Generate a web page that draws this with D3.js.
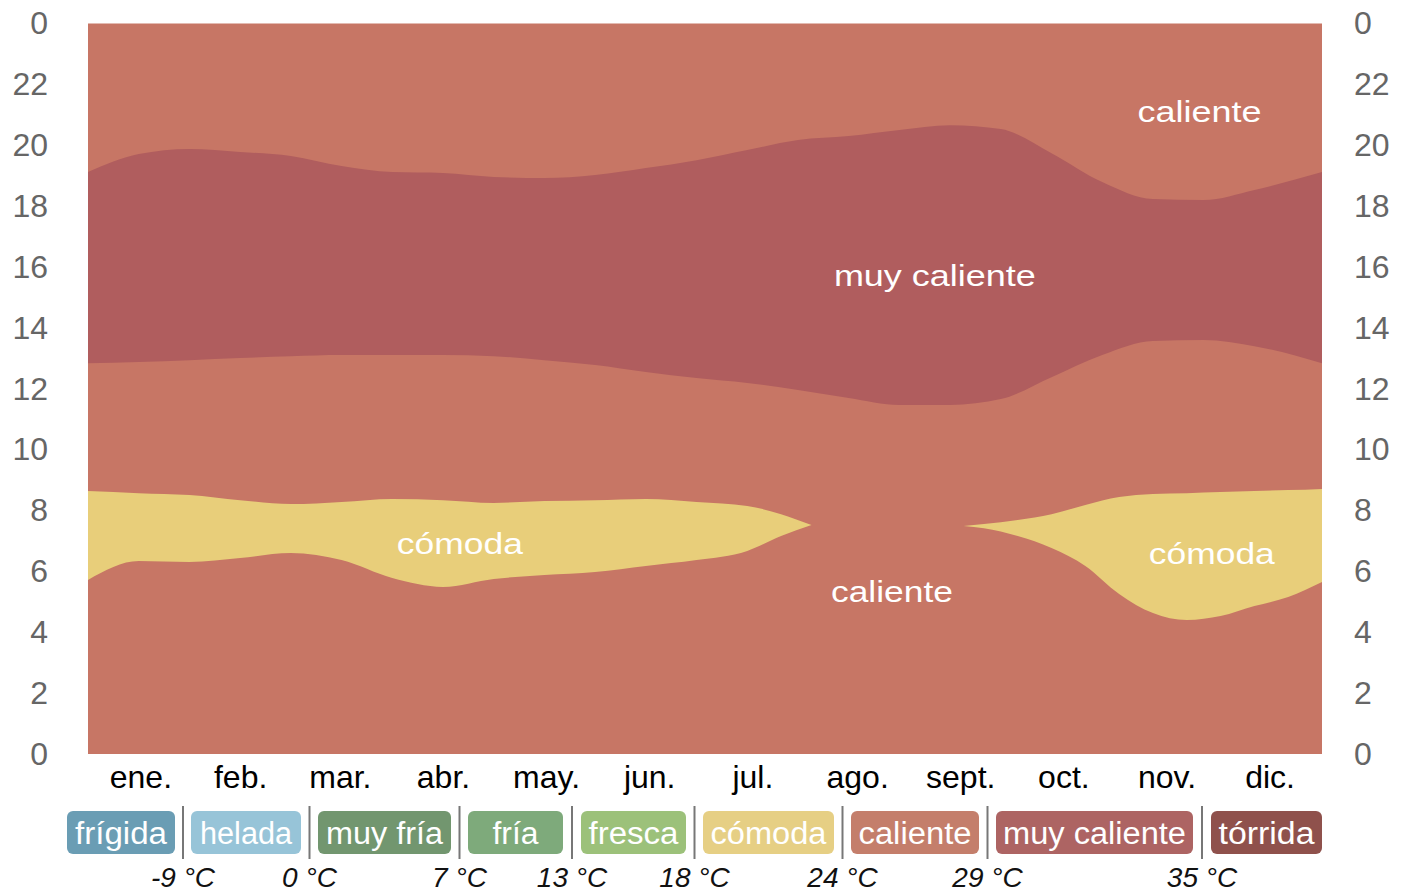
<!DOCTYPE html>
<html>
<head>
<meta charset="utf-8">
<script src="https://cdn.jsdelivr.net/npm/d3@7"></script>
<style>
  html, body { margin: 0; padding: 0; background: #ffffff; }
  svg { display: block; font-family: "Liberation Sans", Arial, sans-serif; }
</style>
</head>
<body>
<svg id="chart" width="1408" height="892"></svg>
<script>
// ---------- DATA ----------
const monthLabels = ["ene.", "feb.", "mar.", "abr.", "may.", "jun.", "jul.", "ago.", "sept.", "oct.", "nov.", "dic."];
const monthLengths = [31, 28, 31, 30, 31, 30, 31, 31, 30, 31, 30, 31];
const hourTicks = [0, 2, 4, 6, 8, 10, 12, 14, 16, 18, 20, 22, 24];

// "muy caliente" band: day of year, lower / upper hour boundary
const hotDays = [0, 15, 30, 45, 60, 75, 90, 105, 120, 135, 150, 165, 180, 195, 210, 225, 240, 255, 270, 285, 300, 315, 330, 345, 365];
const hotLower = [12.84, 12.88, 12.94, 13.01, 13.07, 13.11, 13.11, 13.11, 13.07, 12.94, 12.78, 12.55, 12.35, 12.19, 11.96, 11.70, 11.47, 11.47, 11.66, 12.38, 13.11, 13.57, 13.60, 13.40, 12.84];
const hotUpper = [19.12, 19.71, 19.88, 19.78, 19.65, 19.32, 19.12, 19.09, 18.96, 18.92, 19.02, 19.25, 19.51, 19.84, 20.17, 20.30, 20.50, 20.66, 20.53, 19.74, 18.79, 18.23, 18.20, 18.53, 19.12];

// "cómoda" band, first half of the year
const comfyDaysA = [0, 15, 30, 45, 60, 75, 90, 105, 120, 135, 150, 165, 180, 195, 205, 214];
const comfyLowerA = [5.72, 6.34, 6.31, 6.44, 6.60, 6.37, 5.78, 5.49, 5.75, 5.88, 5.98, 6.18, 6.37, 6.67, 7.16, 7.52];
const comfyUpperA = [8.64, 8.57, 8.51, 8.34, 8.21, 8.28, 8.38, 8.34, 8.25, 8.31, 8.34, 8.38, 8.28, 8.15, 7.88, 7.52];

// "cómoda" band, end of the year
const comfyDaysB = [259, 265, 275, 285, 295, 305, 315, 325, 335, 345, 355, 365];
const comfyLowerB = [7.49, 7.42, 7.16, 6.77, 6.18, 5.26, 4.63, 4.40, 4.53, 4.86, 5.16, 5.65];
const comfyUpperB = [7.49, 7.56, 7.69, 7.88, 8.18, 8.44, 8.54, 8.57, 8.61, 8.64, 8.67, 8.71];

// band labels: text, day, hour
const bandLabelText = ["caliente", "muy caliente", "cómoda", "caliente", "cómoda"];
const bandLabelDay = [328.8, 250.5, 110, 237.8, 332.4];
const bandLabelHour = [21.12, 15.74, 6.93, 5.35, 6.60];

// legend
const legendNames = ["frígida", "helada", "muy fría", "fría", "fresca", "cómoda", "caliente", "muy caliente", "tórrida"];
const legendThresholds = ["-9 °C", "0 °C", "7 °C", "13 °C", "18 °C", "24 °C", "29 °C", "35 °C"];

// ---------- STYLE / LAYOUT ----------
const colCaliente = "#c77665";
const colMuyCaliente = "#b05d5e";
const colComoda = "#e8ce7a";
const legendColors = ["#6a9db4", "#97c4d8", "#72966f", "#7eaa7b", "#9cc17a", "#e6cf84", "#c47e6b", "#ad6463", "#8f514c"];
const legendBoxLeft = [67, 191, 318, 468, 581, 703, 851, 996, 1211];
const legendBoxWidth = [108, 110, 133, 95, 105, 131, 128, 197, 111];
const legendTextWidth = [92, 92, 117, 46, 90, 116, 113, 183, 96];
const bandLabelWidth = [124, 202, 126, 122, 126];

const plot = { left: 88, right: 1322, top: 23.5, bottom: 754 };

const svg = d3.select("#chart");

const x = d3.scaleLinear().domain([0, 365]).range([plot.left, plot.right]);
const y = d3.scaleLinear().domain([0, 24]).range([plot.bottom, plot.top]);

// background band (caliente)
svg.append("rect")
  .attr("x", x(0)).attr("y", y(24))
  .attr("width", x(365) - x(0)).attr("height", y(0) - y(24))
  .attr("fill", colCaliente);

const area = d3.area()
  .x(d => x(d.day))
  .y0(d => y(d.lo))
  .y1(d => y(d.hi))
  .curve(d3.curveMonotoneX);

const zip = (days, lo, hi) => days.map((d, i) => ({ day: d, lo: lo[i], hi: hi[i] }));

svg.append("path").datum(zip(hotDays, hotLower, hotUpper))
  .attr("d", area).attr("fill", colMuyCaliente);
svg.append("path").datum(zip(comfyDaysA, comfyLowerA, comfyUpperA))
  .attr("d", area).attr("fill", colComoda);
svg.append("path").datum(zip(comfyDaysB, comfyLowerB, comfyUpperB))
  .attr("d", area).attr("fill", colComoda);

// band labels
svg.append("g").selectAll("text")
  .data(bandLabelText)
  .join("text")
  .attr("x", (d, i) => x(bandLabelDay[i]))
  .attr("y", (d, i) => y(bandLabelHour[i]))
  .attr("dy", "0.36em")
  .attr("text-anchor", "middle")
  .attr("font-size", 30)
  .attr("fill", "#ffffff")
  .attr("textLength", (d, i) => bandLabelWidth[i])
  .attr("lengthAdjust", "spacingAndGlyphs")
  .text(d => d);

// y axes
const hourFmt = h => String(h % 24);
const yLeft = svg.append("g")
  .attr("transform", `translate(${plot.left},0)`)
  .call(d3.axisLeft(y).tickValues(hourTicks).tickFormat(hourFmt).tickSize(0).tickPadding(40));
const yRight = svg.append("g")
  .attr("transform", `translate(${plot.right},0)`)
  .call(d3.axisRight(y).tickValues(hourTicks).tickFormat(hourFmt).tickSize(0).tickPadding(32));
[yLeft, yRight].forEach(g => {
  g.select(".domain").remove();
  g.selectAll("text")
    .attr("font-size", 32)
    .attr("fill", "#666666")
    .attr("font-family", "\"Liberation Sans\", Arial, sans-serif");
});

// x axis (month labels at mid-month)
const monthStarts = d3.cumsum([0].concat(monthLengths.slice(0, 11)));
const monthMids = monthLengths.map((len, i) => monthStarts[i] + len / 2);
const xAxis = svg.append("g")
  .attr("transform", `translate(0,${plot.bottom})`)
  .call(d3.axisBottom(x).tickValues(monthMids).tickFormat((d, i) => monthLabels[i]).tickSize(0).tickPadding(11));
xAxis.select(".domain").remove();
xAxis.selectAll("text")
  .attr("font-size", 32)
  .attr("fill", "#000000")
  .attr("font-family", "\"Liberation Sans\", Arial, sans-serif");

// legend
const legend = svg.append("g");
legend.selectAll("rect")
  .data(legendNames)
  .join("rect")
  .attr("x", (d, i) => legendBoxLeft[i])
  .attr("y", 811)
  .attr("width", (d, i) => legendBoxWidth[i])
  .attr("height", 43)
  .attr("rx", 6)
  .attr("fill", (d, i) => legendColors[i]);
legend.selectAll("text.name")
  .data(legendNames)
  .join("text")
  .attr("class", "name")
  .attr("x", (d, i) => legendBoxLeft[i] + legendBoxWidth[i] / 2)
  .attr("y", 844)
  .attr("text-anchor", "middle")
  .attr("font-size", 31)
  .attr("fill", "#ffffff")
  .attr("textLength", (d, i) => legendTextWidth[i])
  .attr("lengthAdjust", "spacingAndGlyphs")
  .text(d => d);

const dividerX = legendThresholds.map((t, i) => (legendBoxLeft[i] + legendBoxWidth[i] + legendBoxLeft[i + 1]) / 2);
legend.selectAll("line")
  .data(legendThresholds)
  .join("line")
  .attr("x1", (d, i) => dividerX[i]).attr("x2", (d, i) => dividerX[i])
  .attr("y1", 806).attr("y2", 859)
  .attr("stroke", "#777777")
  .attr("stroke-width", 2);
legend.selectAll("text.thr")
  .data(legendThresholds)
  .join("text")
  .attr("class", "thr")
  .attr("x", (d, i) => dividerX[i])
  .attr("y", 887)
  .attr("text-anchor", "middle")
  .attr("font-size", 28)
  .attr("font-style", "italic")
  .attr("fill", "#111111")
  .text(d => d);
</script>
</body>
</html>
